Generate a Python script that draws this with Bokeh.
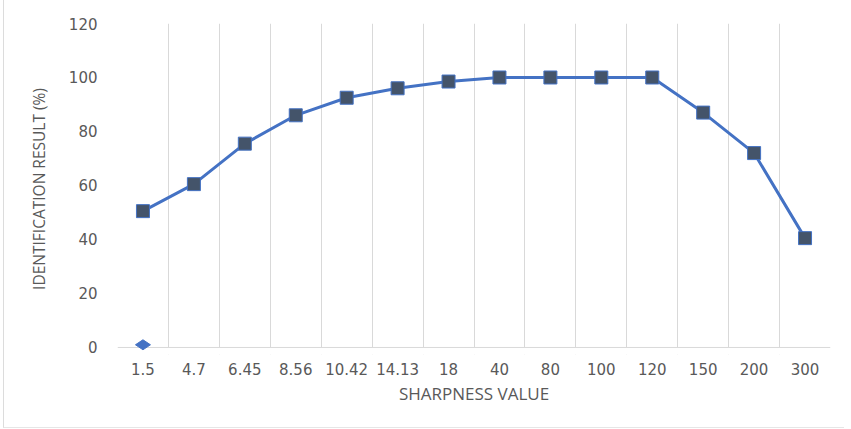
import math
from bokeh.plotting import figure
from bokeh.models import FactorRange, Range1d, FixedTicker, BoxAnnotation, Span
from bokeh.embed import file_html
from bokeh.resources import INLINE

categories = ["1.5", "4.7", "6.45", "8.56", "10.42", "14.13", "18",
              "40", "80", "100", "120", "150", "200", "300"]
identification = [50.5, 60.5, 75.5, 86, 92.5, 96, 98.5,
                  100, 100, 100, 100, 87, 72, 40.5]
extra_categories = ["1.5"]
extra_values = [1]
y_ticks = [0, 20, 40, 60, 80, 100, 120]

p = figure(x_range=FactorRange(*categories), y_range=Range1d(-2.6, 120),
           frame_width=713, frame_height=331,
           min_border_left=113, min_border_right=14,
           min_border_top=23, min_border_bottom=73,
           output_backend="svg", toolbar_location=None)
p.styles = {"border-left": "1px solid #dcdcdc",
            "border-bottom": "1px solid #e6e6e6",
            "margin-left": "3px"}

p.outline_line_color = None
p.ygrid.grid_line_color = None
p.xgrid.ticker = FixedTicker(ticks=list(range(len(categories) + 1)))
p.xgrid.grid_line_color = "#d9d9d9"
p.xgrid.grid_line_width = 1

# hide grid below the baseline and draw the baseline itself
p.add_layout(BoxAnnotation(top=0, fill_color="white", fill_alpha=1,
                           line_color=None, level="underlay"))
p.add_layout(Span(location=0, dimension="width", line_color="#d9d9d9",
                  line_width=1, level="underlay"))

p.line(categories, identification, line_color="#4472C4", line_width=3)
p.scatter(categories, identification, marker="square", size=13,
          fill_color="#44546A", line_color="#4472C4", line_width=1)
p.scatter(extra_categories, extra_values, marker="diamond", size=15,
          angle=math.pi / 2,
          fill_color="#4472C4", line_color="#4472C4")

p.yaxis.ticker = FixedTicker(ticks=y_ticks)
for ax in (p.xaxis[0], p.yaxis[0]):
    ax.axis_line_color = None
    ax.major_tick_line_color = None
    ax.minor_tick_line_color = None
    ax.major_label_text_color = "#595959"
    ax.major_label_text_font = "DejaVu Sans"
    ax.major_label_text_font_size = "15px"
    ax.axis_label_text_color = "#595959"
    ax.axis_label_text_font = "Open Sans"
    ax.axis_label_text_font_style = "normal"

p.yaxis.major_label_standoff = 14
p.yaxis.axis_label = "IDENTIFICATION RESULT (%)"
p.yaxis.axis_label_text_font_size = "15.5px"
p.yaxis.axis_label_standoff = 16

p.xaxis.major_label_standoff = 2
p.xaxis.axis_label = "SHARPNESS VALUE"
p.xaxis.axis_label_text_font_size = "17px"
p.xaxis.axis_label_standoff = 4

open("out.html", "w").write(file_html(p, INLINE))
